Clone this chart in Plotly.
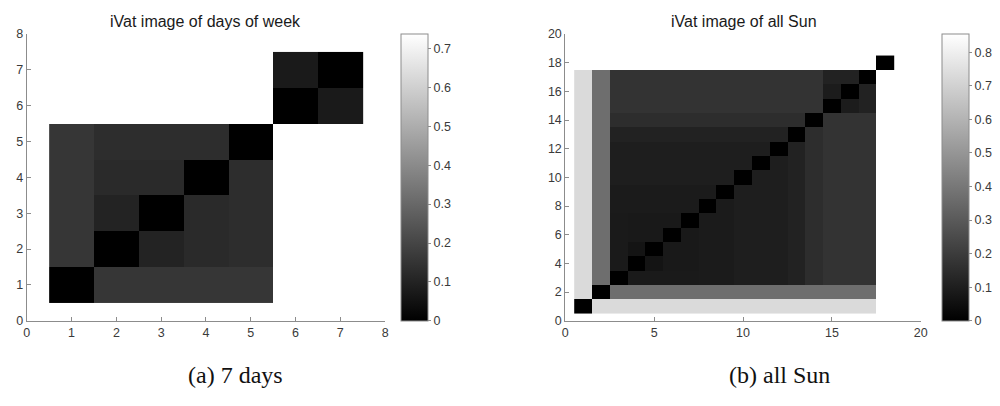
import plotly.graph_objects as go

# ---------------- data ----------------
days_idx = [1, 2, 3, 4, 5, 6, 7]
days_z = [
    [0.000, 0.156, 0.156, 0.156, 0.156, 0.738, 0.738],
    [0.156, 0.000, 0.101, 0.122, 0.130, 0.738, 0.738],
    [0.156, 0.101, 0.000, 0.122, 0.130, 0.738, 0.738],
    [0.156, 0.122, 0.122, 0.000, 0.130, 0.738, 0.738],
    [0.156, 0.130, 0.130, 0.130, 0.000, 0.738, 0.738],
    [0.738, 0.738, 0.738, 0.738, 0.738, 0.000, 0.075],
    [0.738, 0.738, 0.738, 0.738, 0.738, 0.075, 0.000],
]
days_zmax = 0.738

sun_idx = list(range(1, 19))
sun_z = [
    [0, .731, .731, .731, .731, .731, .731, .731, .731, .731, .731, .731, .731, .731, .731, .731, .731, .855],
    [.731, 0, .369, .369, .369, .369, .369, .369, .369, .369, .369, .369, .369, .369, .369, .369, .369, .855],
    [.731, .369, 0, .087, .087, .087, .087, .091, .091, .101, .101, .101, .114, .151, .171, .171, .171, .855],
    [.731, .369, .087, 0, .067, .084, .084, .091, .091, .101, .101, .101, .114, .151, .171, .171, .171, .855],
    [.731, .369, .087, .067, 0, .084, .084, .091, .091, .101, .101, .101, .114, .151, .171, .171, .171, .855],
    [.731, .369, .087, .084, .084, 0, .084, .091, .091, .101, .101, .101, .114, .151, .171, .171, .171, .855],
    [.731, .369, .087, .084, .084, .084, 0, .091, .091, .101, .101, .101, .114, .151, .171, .171, .171, .855],
    [.731, .369, .091, .091, .091, .091, .091, 0, .091, .101, .101, .101, .114, .151, .171, .171, .171, .855],
    [.731, .369, .091, .091, .091, .091, .091, .091, 0, .101, .101, .101, .114, .151, .171, .171, .171, .855],
    [.731, .369, .101, .101, .101, .101, .101, .101, .101, 0, .101, .101, .114, .151, .171, .171, .171, .855],
    [.731, .369, .101, .101, .101, .101, .101, .101, .101, .101, 0, .101, .114, .151, .171, .171, .171, .855],
    [.731, .369, .101, .101, .101, .101, .101, .101, .101, .101, .101, 0, .114, .151, .171, .171, .171, .855],
    [.731, .369, .114, .114, .114, .114, .114, .114, .114, .114, .114, .114, 0, .151, .171, .171, .171, .855],
    [.731, .369, .151, .151, .151, .151, .151, .151, .151, .151, .151, .151, .151, 0, .171, .171, .171, .855],
    [.731, .369, .171, .171, .171, .171, .171, .171, .171, .171, .171, .171, .171, .171, 0, .094, .114, .855],
    [.731, .369, .171, .171, .171, .171, .171, .171, .171, .171, .171, .171, .171, .171, .094, 0, .114, .855],
    [.731, .369, .171, .171, .171, .171, .171, .171, .171, .171, .171, .171, .171, .171, .114, .114, 0, .855],
    [.855, .855, .855, .855, .855, .855, .855, .855, .855, .855, .855, .855, .855, .855, .855, .855, .855, 0],
]
sun_zmax = 0.855

days_cb_ticks = [0, 0.1, 0.2, 0.3, 0.4, 0.5, 0.6, 0.7]
sun_cb_ticks = [0, 0.1, 0.2, 0.3, 0.4, 0.5, 0.6, 0.7, 0.8]

titles = ["iVat image of days of week", "iVat image of all Sun"]
captions = ["(a) 7 days", "(b) all Sun"]

# ---------------- figure ----------------
W, H = 1000, 406
gray_scale = [[0, "#000000"], [1, "#ffffff"]]
axis_col = "#8c8c8c"
tick_font = dict(family="Liberation Sans, Arial, sans-serif", size=12.5, color="#3a3a3a")

def py(px):  # pixel from top -> paper
    return (H - px) / H

plot_top, plot_bot = 28, 325
fig = go.Figure()

fig.add_trace(go.Heatmap(x=days_idx, y=days_idx, z=days_z, coloraxis="coloraxis",
                         xaxis="x", yaxis="y", xgap=0, ygap=0))
fig.add_trace(go.Heatmap(x=sun_idx, y=sun_idx, z=sun_z, coloraxis="coloraxis2",
                         xaxis="x2", yaxis="y2", xgap=0, ygap=0))

def cbar(xleft, ticks):
    return dict(x=xleft / W, xanchor="left", xpad=0, ypad=0,
                y=py(plot_bot), yanchor="bottom",
                len=(plot_bot - plot_top) / H, lenmode="fraction",
                thickness=27, thicknessmode="pixels",
                outlinecolor=axis_col, outlinewidth=1,
                tickvals=ticks, ticks="outside", ticklen=3, tickcolor=axis_col,
                tickfont=tick_font)

axcommon = dict(showgrid=False, zeroline=False, showline=True, linecolor=axis_col,
                linewidth=1, ticks="inside", ticklen=4, tickcolor=axis_col,
                tickfont=tick_font, mirror=False)

fig.update_layout(
    width=W, height=H,
    margin=dict(l=0, r=0, t=0, b=0),
    paper_bgcolor="white", plot_bgcolor="white",
    coloraxis=dict(colorscale=gray_scale, cmin=0, cmax=days_zmax,
                   colorbar=cbar(402, days_cb_ticks)),
    coloraxis2=dict(colorscale=gray_scale, cmin=0, cmax=sun_zmax,
                    colorbar=cbar(948, sun_cb_ticks)),
    xaxis=dict(domain=[24 / W, 386 / W], range=[0, 8], dtick=1, anchor="y", **axcommon),
    yaxis=dict(domain=[py(plot_bot), py(plot_top)], range=[0, 8], dtick=1, anchor="x", **axcommon),
    xaxis2=dict(domain=[568 / W, 927 / W], range=[0, 20], dtick=5, anchor="y2", **axcommon),
    yaxis2=dict(domain=[py(plot_bot), py(plot_top)], range=[0, 20], dtick=2, anchor="x2", **axcommon),
    showlegend=False,
)

title_x = [205, 748]
for t, xc in zip(titles, title_x):
    fig.add_annotation(text=t, x=xc / W, y=py(15), xref="paper", yref="paper",
                       showarrow=False, xanchor="center", yanchor="middle",
                       font=dict(family="Liberation Sans, Arial, sans-serif", size=16, color="#1a1a1a"))

cap_x = [235, 784]
for c, xc in zip(captions, cap_x):
    fig.add_annotation(text=c, x=xc / W, y=py(381), xref="paper", yref="paper",
                       showarrow=False, xanchor="center", yanchor="middle",
                       font=dict(family="Liberation Serif, serif", size=24, color="#111111"))

fig.write_html("out.html")
